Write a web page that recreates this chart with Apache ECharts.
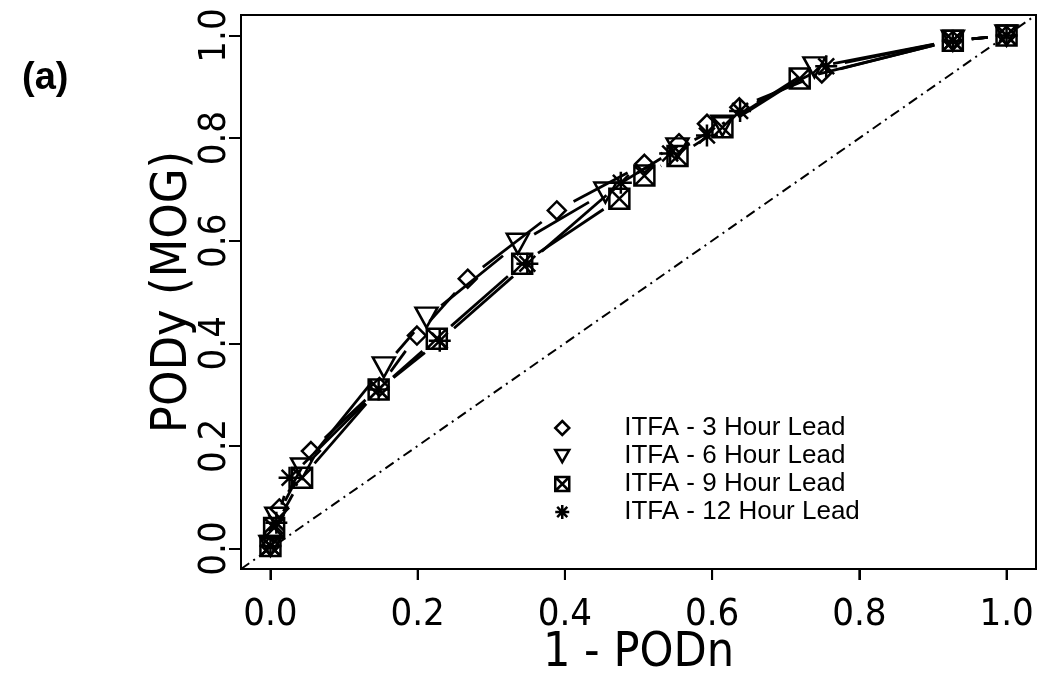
<!DOCTYPE html>
<html>
<head>
<meta charset="utf-8">
<script src="https://cdn.jsdelivr.net/npm/echarts@6/dist/echarts.min.js"></script>
<style>
  html, body { margin: 0; padding: 0; background: #fff; }
  #chart { width: 1044px; height: 677px; }
</style>
</head>
<body>
<div id="chart"></div>
<script>
// ROC points: [1 - PODn, PODy] for each forecast lead time
const lead3 = [[0.0, 0.005], [0.004, 0.03], [0.012, 0.078], [0.055, 0.19], [0.148, 0.315], [0.199, 0.415], [0.268, 0.526], [0.389, 0.659], [0.508, 0.75], [0.555, 0.79], [0.593, 0.828], [0.637, 0.86], [0.749, 0.926], [0.927, 0.99], [1.0, 1.0]];
const lead6 = [[0.0, 0.005], [0.008, 0.06], [0.043, 0.156], [0.154, 0.353], [0.212, 0.45], [0.336, 0.594], [0.455, 0.694], [0.553, 0.78], [0.614, 0.824], [0.739, 0.938], [0.927, 0.99], [1.0, 1.0]];
const lead9 = [[0.0, 0.005], [0.005, 0.04], [0.043, 0.138], [0.147, 0.31], [0.226, 0.409], [0.342, 0.555], [0.474, 0.682], [0.508, 0.727], [0.553, 0.765], [0.614, 0.821], [0.719, 0.916], [0.927, 0.99], [1.0, 1.0]];
const lead12 = [[0.0, 0.005], [0.008, 0.05], [0.026, 0.138], [0.147, 0.31], [0.23, 0.405], [0.349, 0.555], [0.476, 0.713], [0.543, 0.77], [0.593, 0.805], [0.638, 0.853], [0.755, 0.94], [0.927, 0.99], [1.0, 1.0]];
const seriesNames = ['ITFA - 3 Hour Lead', 'ITFA - 6 Hour Lead', 'ITFA - 9 Hour Lead', 'ITFA - 12 Hour Lead'];
const xTicks = [0.0, 0.2, 0.4, 0.6, 0.8, 1.0];
const yTicks = [0.0, 0.2, 0.4, 0.6, 0.8, 1.0];
const noSkill = [[-0.04, -0.04], [1.04, 1.04]];
const AXIS_MIN = -0.04, AXIS_MAX = 1.04;

const FONT = '"Liberation Sans Narrow", "DejaVu Sans Condensed", "Liberation Sans", Arial, sans-serif';
const LINE_GAP = 19;   // px left open around each point, like R's type = "b"

const shapes = {
  diamond: 'path://M0,-1L1,0L0,1L-1,0Z',
  triDown: 'path://M-1,-0.85L1,-0.85L0,0.9Z',
  boxX: 'path://M-1,-1L1,-1L1,1L-1,1Z M-1,-1L1,1 M1,-1L-1,1',
  star: 'path://M-1,0L1,0 M0,-1L0,1 M-0.72,-0.72L0.72,0.72 M0.72,-0.72L-0.72,0.72'
};

// connecting segments, trimmed at both ends so they stop short of the symbols
function linkSeries(key, data) {
  return {
    id: key, type: 'custom', data: data, encode: { x: 0, y: 1 }, z: 3, silent: true, animation: false,
    renderItem: function (params, api) {
      const i = params.dataIndex;
      if (i >= data.length - 1) return null;
      const p0 = api.coord(data[i]);
      const p1 = api.coord(data[i + 1]);
      const dx = p1[0] - p0[0], dy = p1[1] - p0[1];
      const len = Math.hypot(dx, dy);
      if (len <= 2 * LINE_GAP) return null;
      const ux = dx / len, uy = dy / len;
      return {
        type: 'line',
        shape: { x1: p0[0] + ux * LINE_GAP, y1: p0[1] + uy * LINE_GAP, x2: p1[0] - ux * LINE_GAP, y2: p1[1] - uy * LINE_GAP },
        style: { stroke: '#000', lineWidth: 2.8, lineCap: 'butt' }
      };
    }
  };
}

function pointSeries(name, data, symbol, size) {
  return {
    name: name, type: 'scatter', data: data, symbol: symbol, symbolSize: size, z: 4,
    itemStyle: { color: 'rgba(0,0,0,0)', borderColor: '#000', borderWidth: 2.5, opacity: 1 },
    emphasis: { disabled: true }, animation: false
  };
}

// outward tick marks under the bottom edge of the frame
const bottomTicks = {
  id: 'bottomTicks', type: 'custom', data: xTicks.map(v => [v, AXIS_MIN]), encode: { x: 0, y: 1 },
  clip: false, silent: true, animation: false, z: 5,
  renderItem: function (params, api) {
    const p = api.coord([api.value(0), AXIS_MIN]);
    return { type: 'line', shape: { x1: p[0], y1: p[1], x2: p[0], y2: p[1] + 11 },
      style: { stroke: '#000', lineWidth: 2 } };
  }
};

const chart = echarts.init(document.getElementById('chart'));
chart.setOption({
  backgroundColor: '#fff',
  animation: false,
  grid: {
    left: 241, right: 8, top: 15, bottom: 108,
    containLabel: false, outerBoundsMode: 'none',
    show: true, borderColor: '#000', borderWidth: 2, backgroundColor: 'transparent'
  },
  xAxis: {
    type: 'value', min: AXIS_MIN, max: AXIS_MAX,
    name: '1 - PODn', nameLocation: 'middle', nameGap: 61, nameMoveOverlap: false,
    nameTextStyle: { fontFamily: FONT, fontSize: 48, color: '#000' },
    axisLine: { show: true, onZero: false, lineStyle: { color: '#000', width: 2 } },
    axisTick: { show: true, inside: false, length: 11, customValues: xTicks, lineStyle: { color: '#000', width: 2 } },
    axisLabel: { customValues: xTicks, margin: 27, fontFamily: FONT, fontSize: 38, color: '#000',
      formatter: v => v.toFixed(1) },
    splitLine: { show: false }
  },
  yAxis: {
    type: 'value', min: AXIS_MIN, max: AXIS_MAX,
    name: 'PODy (MOG)', nameLocation: 'middle', nameGap: 43, nameMoveOverlap: false,
    nameTextStyle: { fontFamily: FONT, fontSize: 50, color: '#000' },
    axisLine: { show: true, onZero: false, lineStyle: { color: '#000', width: 2 } },
    axisTick: { show: true, inside: false, length: 12, customValues: yTicks, lineStyle: { color: '#000', width: 2 } },
    axisLabel: { customValues: yTicks, margin: 7, rotate: 90, fontFamily: FONT, fontSize: 38, color: '#000',
      formatter: v => v.toFixed(1) },
    splitLine: { show: false }
  },
  legend: {
    orient: 'vertical', left: 549, top: 409, itemGap: 0,
    itemWidth: 14, itemHeight: 14,
    textStyle: { fontFamily: '"Liberation Sans", Arial, sans-serif', fontSize: 26, lineHeight: 28, color: '#000', padding: [0, 0, 0, 50] },
    itemStyle: { color: 'rgba(0,0,0,0)', borderColor: '#000', borderWidth: 2.5 },
    selectedMode: false,
    data: [
      { name: seriesNames[0], icon: shapes.diamond },
      { name: seriesNames[1], icon: shapes.triDown },
      { name: seriesNames[2], icon: shapes.boxX },
      { name: seriesNames[3], icon: shapes.star }
    ]
  },
  graphic: [{
    type: 'text', left: 22, top: 60,
    style: { text: '(a)', fontFamily: '"Liberation Sans", Arial, sans-serif', fontWeight: 'bold', fontSize: 38, fill: '#000' }
  }],
  series: [
    {
      id: 'diagonal', type: 'line', data: noSkill, symbol: 'none', z: 2,
      lineStyle: { color: '#000', width: 2, type: [10, 5, 2, 5] }, silent: true, animation: false
    },
    bottomTicks,
    linkSeries('link3', lead3),
    linkSeries('link6', lead6),
    linkSeries('link9', lead9),
    linkSeries('link12', lead12),
    pointSeries(seriesNames[0], lead3, shapes.diamond, 18),
    pointSeries(seriesNames[1], lead6, shapes.triDown, [22, 20]),
    pointSeries(seriesNames[2], lead9, shapes.boxX, 20),
    pointSeries(seriesNames[3], lead12, shapes.star, 22)
  ]
});
</script>
</body>
</html>
